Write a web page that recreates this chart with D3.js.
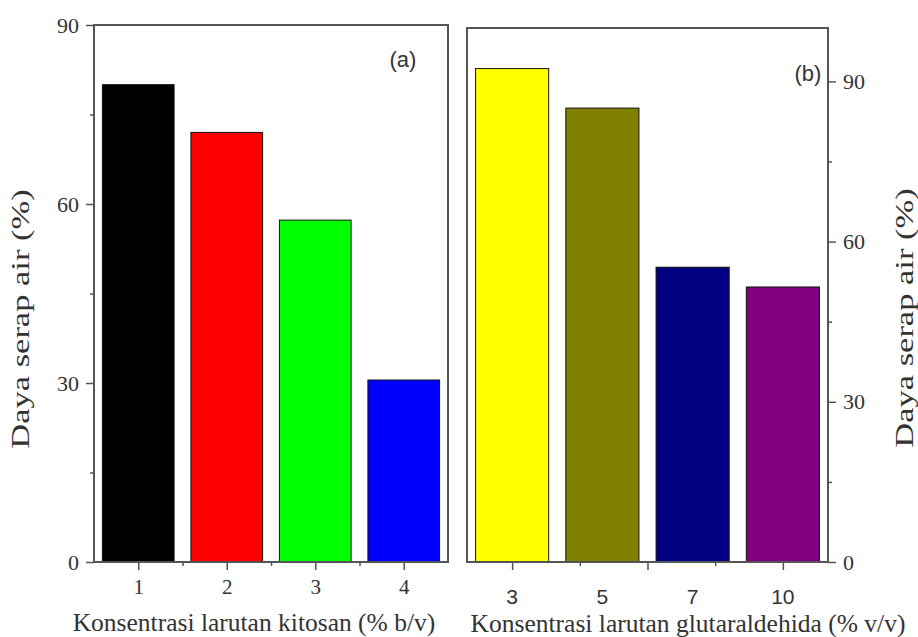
<!DOCTYPE html>
<html>
<head>
<meta charset="utf-8">
<script src="https://cdn.jsdelivr.net/npm/d3@7"></script>
<style>
  body { margin: 0; background: #fff; }
  svg { display: block; }
</style>
</head>
<body>
<div id="chart"></div>
<script>
// panel (a): kitosan concentration
const kitosanLabels = ['1', '2', '3', '4'];
const kitosanValues = [80, 72, 57.3, 30.5];
const kitosanColors = ['#000000', '#ff0000', '#00ff00', '#0000ff'];

// panel (b): glutaraldehida concentration
const glutarLabels = ['3', '5', '7', '10'];
const glutarValues = [92.4, 85.0, 55.2, 51.5];
const glutarColors = ['#ffff00', '#808000', '#000080', '#800080'];

const yTicks = [0, 30, 60, 90];
const yMinorTicks = [15, 45, 75];

const width = 918;
const height = 637;
const frameColor = '#555';
const textColor = '#333';
const serif = '"Liberation Serif", "Times New Roman", serif';
const sans = '"Liberation Sans", Arial, sans-serif';

const svg = d3.select('#chart')
  .append('svg')
  .attr('width', width)
  .attr('height', height);

function drawBars(g, x, y, values, colors) {
  const bw = (x(2) - x(1)) * 0.81;
  g.append('g')
    .selectAll('rect')
    .data(values)
    .join('rect')
    .attr('x', (d, i) => x(i + 1) - bw / 2)
    .attr('y', d => y(d))
    .attr('width', bw)
    .attr('height', d => y(0) - y(d))
    .attr('fill', (d, i) => colors[i])
    .attr('stroke', '#111')
    .attr('stroke-width', 1);
}

function drawFrame(g, x, y) {
  g.append('rect')
    .attr('x', x.range()[0])
    .attr('y', y.range()[1])
    .attr('width', x.range()[1] - x.range()[0])
    .attr('height', y.range()[0] - y.range()[1])
    .attr('fill', 'none')
    .attr('stroke', frameColor)
    .attr('stroke-width', 2);
}

const styleTicks = g => g.selectAll('.tick line')
  .attr('stroke', frameColor)
  .attr('stroke-width', 1.5);

// ---- panel (a)
const xa = d3.scaleLinear().domain([0.5, 4.5]).range([94, 448]);
const ya = d3.scaleLinear().domain([0, 90]).range([562, 25]);
const ga = svg.append('g');

drawBars(ga, xa, ya, kitosanValues, kitosanColors);

ga.append('g')
  .attr('transform', `translate(${xa.range()[0]},0)`)
  .call(d3.axisLeft(ya).tickValues(yTicks).tickSize(8).tickPadding(7))
  .call(g => g.select('.domain').remove())
  .call(styleTicks)
  .call(g => g.selectAll('.tick text').style('font', `22px ${serif}`).attr('fill', textColor));

ga.append('g')
  .attr('transform', `translate(${xa.range()[0]},0)`)
  .call(d3.axisLeft(ya).tickValues(yMinorTicks).tickSize(4).tickFormat(''))
  .call(g => g.select('.domain').remove())
  .call(styleTicks);

ga.append('g')
  .attr('transform', `translate(0,${ya.range()[0]})`)
  .call(d3.axisBottom(xa).tickValues([1, 2, 3, 4]).tickSize(8).tickPadding(9)
    .tickFormat((d, i) => kitosanLabels[i]))
  .call(g => g.select('.domain').remove())
  .call(styleTicks)
  .call(g => g.selectAll('.tick text').style('font', `21px ${serif}`).attr('fill', textColor));

ga.append('g')
  .attr('transform', `translate(0,${ya.range()[0]})`)
  .call(d3.axisBottom(xa).tickValues([1.5, 2.5, 3.5]).tickSize(4).tickFormat(''))
  .call(g => g.select('.domain').remove())
  .call(styleTicks);

drawFrame(ga, xa, ya);

ga.append('text')
  .attr('x', 403).attr('y', 67)
  .attr('text-anchor', 'middle')
  .style('font', `22px ${sans}`)
  .attr('fill', textColor)
  .text('(a)');

ga.append('text')
  .attr('x', 254).attr('y', 631)
  .attr('text-anchor', 'middle')
  .style('font', `25.5px ${serif}`)
  .attr('fill', textColor)
  .text('Konsentrasi larutan kitosan (% b/v)');

ga.append('text')
  .attr('transform', 'translate(29,319) rotate(-90) scale(1.38,1)')
  .attr('text-anchor', 'middle')
  .style('font', `25px ${serif}`)
  .attr('fill', textColor)
  .text('Daya serap air (%)');

// ---- panel (b)
const xb = d3.scaleLinear().domain([0.5, 4.5]).range([467, 828]);
const yb = d3.scaleLinear().domain([0, 100]).range([562, 28]);
const gb = svg.append('g');

drawBars(gb, xb, yb, glutarValues, glutarColors);

gb.append('g')
  .attr('transform', `translate(${xb.range()[1]},0)`)
  .call(d3.axisRight(yb).tickValues(yTicks).tickSize(8).tickPadding(7))
  .call(g => g.select('.domain').remove())
  .call(styleTicks)
  .call(g => g.selectAll('.tick text').style('font', `22px ${serif}`).attr('fill', textColor));

gb.append('g')
  .attr('transform', `translate(${xb.range()[1]},0)`)
  .call(d3.axisRight(yb).tickValues(yMinorTicks).tickSize(4).tickFormat(''))
  .call(g => g.select('.domain').remove())
  .call(styleTicks);

gb.append('g')
  .attr('transform', `translate(0,${yb.range()[0]})`)
  .call(d3.axisBottom(xb).tickValues([1, 2.5, 4]).tickSize(8).tickFormat(''))
  .call(g => g.select('.domain').remove())
  .call(styleTicks);

gb.append('g')
  .attr('transform', `translate(0,${yb.range()[0]})`)
  .call(d3.axisBottom(xb).tickValues([1.75, 3.25]).tickSize(4).tickFormat(''))
  .call(g => g.select('.domain').remove())
  .call(styleTicks);

gb.append('g')
  .selectAll('text')
  .data(glutarLabels)
  .join('text')
  .attr('x', (d, i) => xb(i + 1))
  .attr('y', yb.range()[0] + 42)
  .attr('text-anchor', 'middle')
  .style('font', `21px ${sans}`)
  .attr('fill', textColor)
  .text(d => d);

drawFrame(gb, xb, yb);

gb.append('text')
  .attr('x', 808).attr('y', 81)
  .attr('text-anchor', 'middle')
  .style('font', `22px ${sans}`)
  .attr('fill', textColor)
  .text('(b)');

gb.append('text')
  .attr('x', 688).attr('y', 632)
  .attr('text-anchor', 'middle')
  .style('font', `25.5px ${serif}`)
  .attr('fill', textColor)
  .text('Konsentrasi larutan glutaraldehida (% v/v)');

gb.append('text')
  .attr('transform', 'translate(913,318) rotate(-90) scale(1.38,1)')
  .attr('text-anchor', 'middle')
  .style('font', `25px ${serif}`)
  .attr('fill', textColor)
  .text('Daya serap air (%)');
</script>
</body>
</html>
